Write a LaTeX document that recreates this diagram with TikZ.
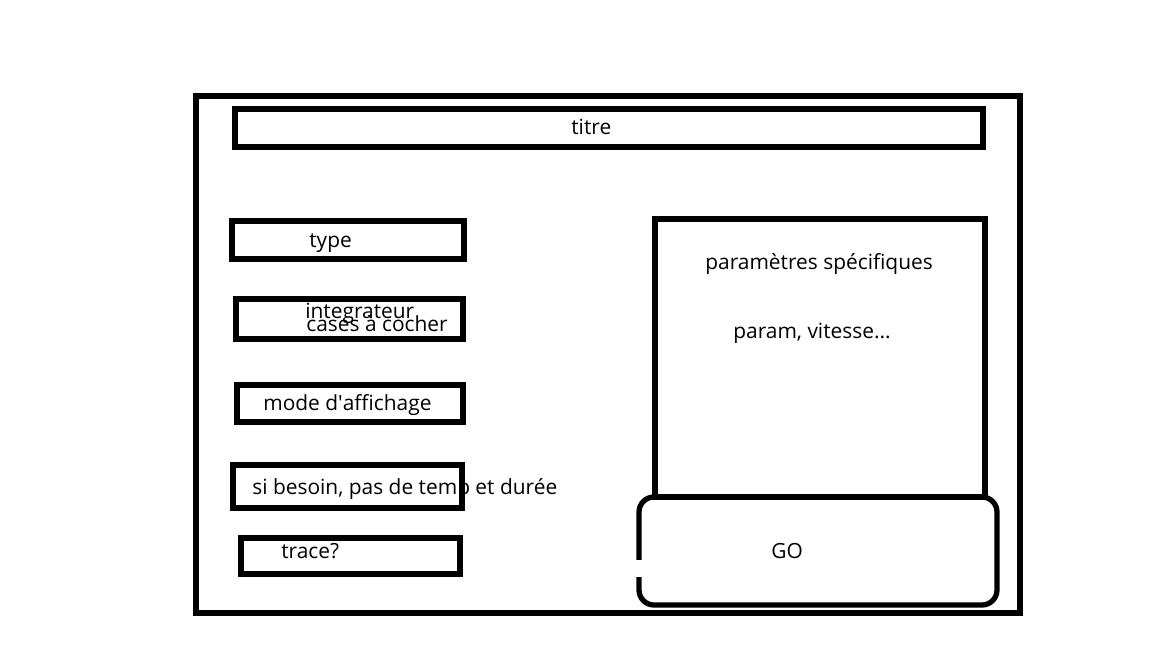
\documentclass[tikz,border=0pt]{standalone}
\usepackage{fontspec}
\setmainfont{Open Sans}
\usepackage{tikz}

\begin{document}
\begin{tikzpicture}[x=0.02cm, y=-0.02cm,
  box/.style={draw=black, line width=3pt},
  txt/.style={anchor=base west, inner sep=0pt, font=\fontsize{11.9}{14}\selectfont}]
\useasboundingbox (0,0) rectangle (1152,648);
\draw [box] (196,96) rectangle (1020,613);
\draw [box] (235,109) rectangle (983,147);
\draw [box] (232,221) rectangle (464,259);
\draw [box] (236,299) rectangle (463,339);
\draw [box] (237,385) rectangle (463,422);
\draw [box] (233,465) rectangle (462,508);
\draw [box] (241,538) rectangle (460,574);
\draw [box] (655,219) rectangle (985,497);
\draw [box, rounded corners=15*0.02cm] (639,497) rectangle (997,605);
\fill [white] (634,560) rectangle (644,577);
\node [txt] (titre) at (571,135) {titre};
\node [txt] (type) at (309,248) {type};
\node [txt] (integ) at (305,318) {integrateur};
\node [txt] (cases) at (306,332) {cases à cocher};
\node [txt] (mode) at (263,410) {mode d\textquotesingle affichage};
\node [txt] (besoin) at (252,494) {si besoin, pas de temp et durée};
\node [txt] (trace) at (281,558) {trace?};
\node [txt] (spec) at (705,270) {paramètres spécifiques};
\node [txt] (vitesse) at (733,338) {param, vitesse...};
\node [txt] (go) at (771,558) {GO};
\end{tikzpicture}
\end{document}
